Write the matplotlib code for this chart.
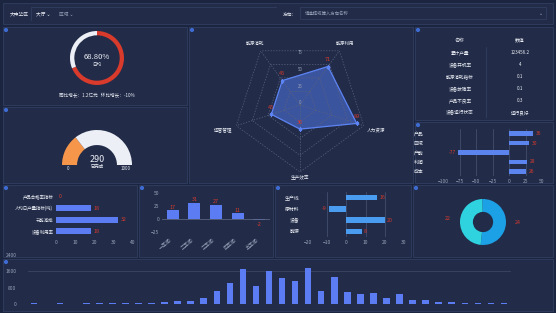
#!/usr/bin/env python3

import numpy as np
import matplotlib.pyplot as plt
from matplotlib.patches import Rectangle, Circle

plt.rcParams['font.family'] = ['Noto Sans CJK SC', 'DejaVu Sans']

W, H = 556, 313
BG = '#1c2540'
PANEL = '#222c49'
EDGE = '#323e60'
BLUE = '#5b7cf2'
RED = '#d83a2c'
GREY = '#9aa3b8'
WHITE = '#eceff5'

#%% data
ring_pct = 68.80
gauge_value = 290
gauge_max = 1000

radar_labels = ['能源利用', '人力资源', '生产效率', '运营管理', '能源消耗']
radar_values = [71, 89, 36, 45, 45]
radar_ticks = [0, 25, 50, 75, 100]

table_names = ['累计产量', '设备开机率', '能源消耗指标', '设备故障率', '产品不良率', '设备运行状态']
table_values = ['123456.2', '4', '0.1', '0.1', '0.3', '运行良好']

div_cats = ['产品', '区域', '产能', '利润', '成本']
div_values = [36, 30, -77, 28, 26]
div_ticks = [-100, -75, -50, -25, 0, 25, 50]

hbar_cats = ['产品合格率指标', '人均日产量指标(吨)', '节能减排', '设备利用率']
hbar_values = [0, 18, 32, 18]
hbar_ticks = [0, 10, 20, 30, 40]

col_cats = ['一车间', '二车间', '三车间', '四车间', '五车间']
col_values = [17, 31, 27, 11, -2]
col_ticks = [-25, 0, 25, 50]

dv_cats = ['生产线', '原材料', '设备', '能源']
dv_values = [16, -9, 20, 8]
dv_ticks = [-20, -10, 0, 10, 20, 30]

donut_values = [24, 22]
donut_colors = ['#1ca0e6', '#2fd3e0']

trend_values = [30, 0, 30, 0, 30, 30, 30, 30, 30, 60, 100, 150, 150, 300, 640,
                1020, 1700, 900, 1620, 1280, 1150, 1740, 640, 1310, 590, 480,
                540, 270, 510, 220, 190, 100, 100, 70, 30, 30, 30]
trend_ticks = [0, 800, 1600, 2400]

panels = [(3, 3, 553, 24), (3, 27, 187, 105), (3, 107, 187, 183),
          (189, 27, 413, 183), (415, 27, 553, 120), (415, 122, 553, 183),
          (3, 185, 137, 257), (139, 185, 273, 257), (275, 185, 411, 257),
          (413, 185, 553, 257), (3, 259, 553, 311)]


def box(fig, x0, y0, x1, y1, **kw):
    return fig.add_axes([x0 / W, 1 - y1 / H, (x1 - x0) / W, (y1 - y0) / H], **kw)


def style(ax):
    ax.set_facecolor('none')
    for s in ax.spines.values():
        s.set_visible(False)
    ax.tick_params(length=0, labelsize=3.5, labelcolor=GREY, pad=2)


def main():
    fig = plt.figure(figsize=(W / 100, H / 100), dpi=100, facecolor=BG)
    bg = box(fig, 0, 0, W, H)
    bg.set_xlim(0, W)
    bg.set_ylim(H, 0)
    bg.axis('off')

    for x0, y0, x1, y1 in panels:
        bg.add_patch(Rectangle((x0, y0), x1 - x0, y1 - y0, fc=PANEL, ec=EDGE, lw=0.6))
        if y0 > 5:
            bg.add_patch(Circle((x0 + 3, y0 + 3), 1.4, color='#3d6bd0'))

    # top filter bar
    bg.text(10, 14, '大中华区', color=WHITE, fontsize=3.4, va='center')
    bg.plot([31, 31], [8, 20], color=EDGE, lw=0.6)
    bg.plot([31, 276], [7, 7], color=EDGE, lw=0.6)
    bg.text(36, 14, '大厅 ⌄', color=WHITE, fontsize=3.4, va='center')
    bg.text(59, 14, '区域 ⌄', color=GREY, fontsize=3.4, va='center')
    bg.text(283, 14, '方向：', color=WHITE, fontsize=3.4, va='center')
    bg.add_patch(Rectangle((300, 7), 246, 12, fc='none', ec=EDGE, lw=0.6))
    bg.text(305, 13.5, '请选择或输入方向名称', color=GREY, fontsize=3.2, va='center')
    bg.text(539, 13.5, '⌄', color=GREY, fontsize=3.5, va='center')

    # ring
    ax = box(fig, 70, 31, 124, 85)
    ax.pie([ring_pct, 100 - ring_pct], colors=[RED, WHITE], startangle=90,
           counterclock=False, wedgeprops=dict(width=0.16, edgecolor='none'))
    ax.set_xlim(-1, 1)
    ax.set_ylim(-1, 1)
    bg.text(97, 57, '%.2f%%' % ring_pct, color=WHITE, fontsize=5.5, ha='center', va='center')
    bg.text(97, 64, '日均', color=WHITE, fontsize=3.3, ha='center', va='center')
    bg.text(97, 96, '同比增长：1.2亿元   环比增长：-10%', color=WHITE, fontsize=3.3,
            ha='center', va='center')

    # half gauge
    ax = box(fig, 62, 130, 132, 200)
    ax.pie([gauge_value, gauge_max - gauge_value, gauge_max],
           colors=['#f6964b', WHITE, 'none'], startangle=180, counterclock=False,
           wedgeprops=dict(width=0.43, edgecolor='none'))
    ax.set_xlim(-1, 1)
    ax.set_ylim(-1, 1)
    bg.text(97, 159, str(gauge_value), color=WHITE, fontsize=6.5, ha='center', va='center')
    bg.text(97, 166.5, '已完成', color=WHITE, fontsize=3.2, ha='center', va='center')
    bg.text(68, 168, '0', color=WHITE, fontsize=3.2, ha='center', va='center')
    bg.text(126, 168, str(gauge_max), color=WHITE, fontsize=3.2, ha='center', va='center')

    # radar
    rax = box(fig, 233, 38, 367, 172, projection='polar')
    rax.set_theta_offset(np.radians(54))
    rax.set_theta_direction(-1)
    rax.set_ylim(0, 100)
    rax.set_axis_off()
    n = len(radar_labels)
    th = np.arange(n) * 2 * np.pi / n
    thc = np.append(th, th[0])
    for r in radar_ticks[1:]:
        rax.plot(thc, [r] * (n + 1), ls=(0, (2, 2)), color='#59627d', lw=0.5)
    for t in th:
        rax.plot([t, t], [0, radar_ticks[-1]], ls=(0, (2, 2)), color='#59627d', lw=0.5)
    up = np.radians(54 - 90)
    for r in radar_ticks[:-1]:
        rax.text(up, r + 3, str(r), color=GREY, fontsize=3.2, ha='center', va='center')
    vals = np.append(radar_values, radar_values[0])
    rax.fill(thc, vals, color='#4d6fd8', alpha=0.6, lw=0)
    rax.plot(thc, vals, color='#5d84f5', lw=0.9, marker='s', ms=2)
    label_r = [113, 120, 108, 120, 113]
    for t, v, lab, lr in zip(th, radar_values, radar_labels, label_r):
        rax.annotate(str(v), (t, v), xytext=(0, 5), textcoords='offset points',
                     color=RED, fontsize=4, ha='center', va='center')
        rax.text(t, lr, lab, color=WHITE, fontsize=3.3, ha='center', va='center')

    # table
    bg.text(460, 40, '名称', color=WHITE, fontsize=3.5, ha='center', va='center')
    bg.text(520, 40, '数值', color=WHITE, fontsize=3.5, ha='center', va='center')
    bg.plot([486, 486], [47, 117], color=EDGE, lw=0.6)
    for i, (nm, v) in enumerate(zip(table_names, table_values)):
        y = 53 + i * 12
        bg.text(460, y, nm, color=WHITE, fontsize=3.3, ha='center', va='center')
        bg.text(520, y, v, color=WHITE, fontsize=3.3, ha='center', va='center')

    # diverging bars right
    ax = box(fig, 443, 129, 542, 176)
    style(ax)
    y = np.arange(len(div_cats))
    ax.barh(y, div_values, height=0.5, color='#5b84ee')
    ax.set_ylim(len(div_cats) - 0.5, -0.5)
    ax.set_xlim(div_ticks[0], div_ticks[-1])
    ax.set_xticks(div_ticks)
    ax.set_yticks(y, div_cats)
    ax.tick_params(axis='y', pad=14, labelcolor=WHITE)
    for t in div_ticks[1:-1]:
        ax.axvline(t, color='#4a5473', lw=0.5, zorder=0)
    for yy, v in zip(y, div_values):
        ax.text(v + (4 if v > 0 else -4), yy, str(v), color=RED, fontsize=3.5,
                ha='left' if v > 0 else 'right', va='center', style='italic')

    # horizontal bars
    ax = box(fig, 56, 191, 133, 237)
    style(ax)
    y = np.arange(len(hbar_cats))
    ax.barh(y, hbar_values, height=0.5, color=BLUE)
    ax.set_ylim(len(hbar_cats) - 0.5, -0.5)
    ax.set_xlim(hbar_ticks[0], hbar_ticks[-1])
    ax.set_xticks(hbar_ticks)
    ax.set_yticks(y, hbar_cats)
    ax.tick_params(axis='y', labelcolor=WHITE, labelsize=3.2)
    for yy, v in zip(y, hbar_values):
        ax.text(v + 1.5, yy, str(v), color=RED, fontsize=3.8, va='center')

    # columns
    ax = box(fig, 162, 193, 270, 232)
    style(ax)
    x = np.arange(len(col_cats))
    ax.bar(x, col_values, width=0.55, color=BLUE)
    ax.set_xlim(-0.5, len(col_cats) - 0.5)
    ax.set_ylim(col_ticks[0], col_ticks[-1])
    ax.set_yticks(col_ticks)
    ax.axhline(0, color='#5a6380', lw=0.6)
    ax.set_xticks(x, col_cats, rotation=40, ha='right')
    ax.tick_params(axis='x', pad=4)
    for xx, v in zip(x, col_values):
        ax.text(xx, v + 6 if v > 0 else v - 8, str(v), color=RED, fontsize=3.8,
                ha='center', va='center')

    # diverging bars middle
    ax = box(fig, 308, 192, 404, 237)
    style(ax)
    y = np.arange(len(dv_cats))
    ax.barh(y, dv_values, height=0.5, color='#4a9cf0')
    ax.set_ylim(len(dv_cats) - 0.5, -0.5)
    ax.set_xlim(dv_ticks[0], dv_ticks[-1])
    ax.set_xticks(dv_ticks)
    ax.set_yticks(y, dv_cats)
    ax.tick_params(axis='y', labelcolor=WHITE, pad=6)
    for t in dv_ticks[1:-1]:
        ax.axvline(t, color='#4a5473', lw=0.5, zorder=0)
    for yy, v in zip(y, dv_values):
        ax.text(v + (1.2 if v > 0 else -1.2), yy, str(v), color=RED, fontsize=3.8,
                ha='left' if v > 0 else 'right', va='center')

    # donut
    ax = box(fig, 460, 199, 506, 245)
    ax.pie(donut_values, colors=donut_colors, startangle=92, counterclock=False,
           wedgeprops=dict(width=0.56, edgecolor='none'))
    ax.set_xlim(-1, 1)
    ax.set_ylim(-1, 1)
    bg.text(448, 219, str(donut_values[1]), color=RED, fontsize=3.8, ha='center', va='center')
    bg.text(518, 222, str(donut_values[0]), color=RED, fontsize=3.8, ha='center', va='center')

    # trend bars
    ax = box(fig, 27.5, 255, 510.5, 304)
    style(ax)
    x = np.arange(len(trend_values))
    ax.bar(x, trend_values, width=0.5, color=BLUE)
    ax.set_xlim(-0.5, len(trend_values) - 0.5)
    ax.set_ylim(trend_ticks[0], trend_ticks[-1])
    ax.set_yticks(trend_ticks)
    ax.set_xticks([])
    ax.axhline(1600, color='#3c4766', lw=0.6, zorder=0)
    ax.tick_params(axis='y', pad=8)

    fig.savefig('out.png', dpi=100, facecolor=BG)


if __name__ == "__main__":
    main()
